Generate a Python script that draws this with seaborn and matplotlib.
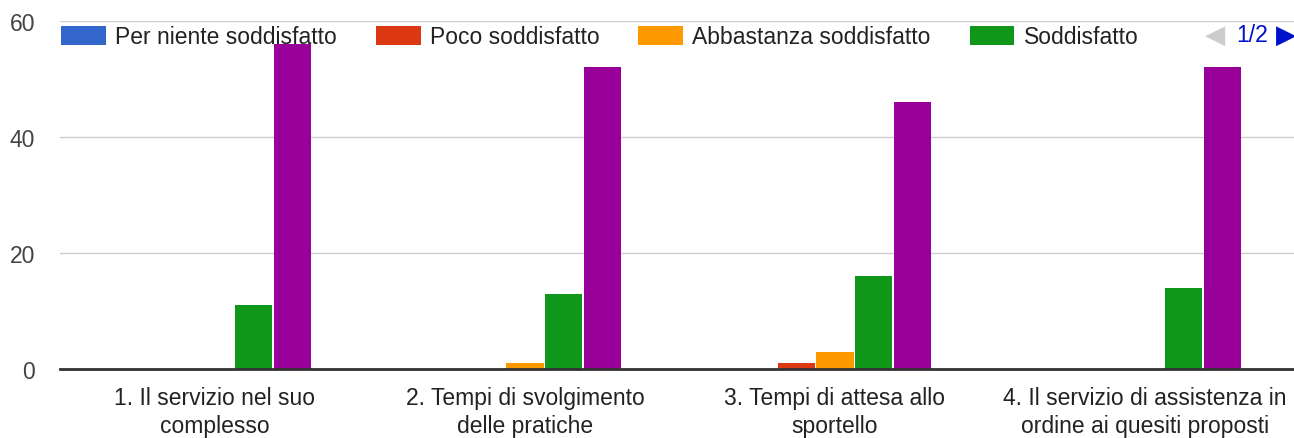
import pandas as pd
import matplotlib.pyplot as plt
import seaborn as sns
from matplotlib.patches import Patch

# data
categories = [
    "1. Il servizio nel suo\ncomplesso",
    "2. Tempi di svolgimento\ndelle pratiche",
    "3. Tempi di attesa allo\nsportello",
    "4. Il servizio di assistenza in\nordine ai quesiti proposti",
]
series = ["Per niente soddisfatto", "Poco soddisfatto", "Abbastanza soddisfatto",
          "Soddisfatto", "Molto soddisfatto"]
per_niente = [0, 0, 0, 0]
poco = [0, 0, 1, 0]
abbastanza = [0, 1, 3, 0]
soddisfatto = [11, 13, 16, 14]
molto = [56, 52, 46, 52]
colors = ["#3366cc", "#dc3912", "#ff9900", "#109618", "#990099"]

rows = []
for name, vals in zip(series, [per_niente, poco, abbastanza, soddisfatto, molto]):
    for cat, v in zip(categories, vals):
        rows.append({"categoria": cat, "risposta": name, "valore": v})
df = pd.DataFrame(rows)

sns.set_theme(style="white")
plt.rcParams["font.family"] = ["Liberation Sans", "DejaVu Sans"]
FS = 16.5

fig = plt.figure(figsize=(12.94, 4.39), dpi=100)
# the plot area runs slightly past the right edge, as in the reference
ax = fig.add_axes([60 / 1294, 0.157, 1240 / 1294, 0.793])

sns.barplot(data=df, x="categoria", y="valore", hue="risposta", hue_order=series,
            palette=colors, width=0.625, gap=0.04, linewidth=0, saturation=1,
            legend=False, ax=ax)

ax.set_ylim(0, 60)
ax.set_yticks([0, 20, 40, 60])
ax.yaxis.grid(True, color="#cccccc", linewidth=1)
ax.set_axisbelow(True)
for s in ["top", "right", "left"]:
    ax.spines[s].set_visible(False)
ax.spines["bottom"].set_color("#333333")
ax.spines["bottom"].set_linewidth(2)
ax.set_xlabel("")
ax.set_ylabel("")
ax.tick_params(axis="both", length=0, labelsize=FS, colors="#222222")
ax.tick_params(axis="y", pad=18, labelcolor="#444444")
ax.tick_params(axis="x", pad=12)
for lab in ax.get_xticklabels():
    lab.set_linespacing(1.28)

# legend, first page only (as in the reference)
handles = [Patch(facecolor=c, edgecolor="none") for c in colors[:4]]
leg = fig.legend(handles, series[:4], loc="upper left", bbox_to_anchor=(0.0475, 0.94),
                 ncol=4, frameon=False,
                 fontsize=FS, handlelength=1.95, handleheight=0.95, handletextpad=0.4,
                 columnspacing=1.7, borderpad=0, borderaxespad=0)
for t in leg.get_texts():
    t.set_color("#222222")

fig.text(0.939, 0.918, "\u25C0", color="#cccccc", fontsize=19, ha="center", va="center",
         family="DejaVu Sans")
fig.text(0.968, 0.918, "1/2", color="#0011cc", fontsize=FS, ha="center", va="center")
fig.text(0.994, 0.918, "\u25B6", color="#0011cc", fontsize=19, ha="center", va="center",
         family="DejaVu Sans")

fig.savefig("out.png", dpi=100, facecolor="white")
